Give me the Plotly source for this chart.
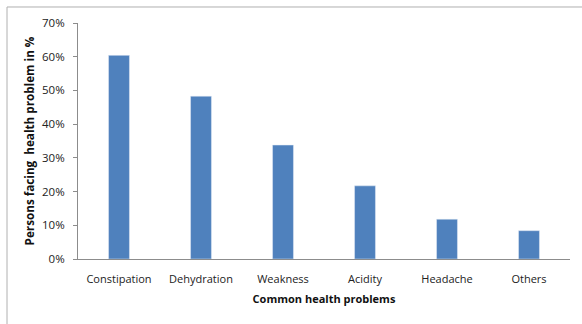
import plotly.graph_objects as go

categories = ["Constipation", "Dehydration", "Weakness", "Acidity", "Headache", "Others"]
values = [0.604, 0.483, 0.338, 0.217, 0.118, 0.084]
y_ticks = [0, 0.1, 0.2, 0.3, 0.4, 0.5, 0.6, 0.7]

fig = go.Figure(go.Bar(x=categories, y=values, marker_color="#4F81BD", width=0.255))

font = "Open Sans, Liberation Sans, sans-serif"
fig.update_layout(
    width=582, height=324,
    margin=dict(l=78, r=12, t=23, b=65),
    plot_bgcolor="white", paper_bgcolor="white",
    showlegend=False,
    font=dict(family=font, size=11, color="#222"),
    xaxis=dict(
        showline=True, linecolor="#8c8c8c", linewidth=1,
        ticks="", showgrid=False,
        tickfont=dict(size=11, color="#222"),
        ticklabelstandoff=10,
        title=dict(text="<b>Common health problems</b>", font=dict(size=11, color="#111"), standoff=10),
    ),
    yaxis=dict(
        range=[0, 0.7], tickvals=y_ticks, tickformat=".0%",
        showline=True, linecolor="#8c8c8c", linewidth=1,
        ticks="outside", ticklen=4, tickcolor="#8c8c8c",
        ticklabelstandoff=6,
        showgrid=False, zeroline=False,
        tickfont=dict(size=11.5, color="#222"),
        title=dict(text="<b>Persons facing  health problem in %</b>", font=dict(size=11.7, color="#111"), standoff=4),
    ),
    shapes=[dict(type="rect", xref="paper", yref="paper",
                 x0=-0.1443, x1=1.2, y0=-0.6, y1=1.0678,
                 line=dict(color="#b0b0b0", width=1), layer="below")],
)

fig.write_html("out.html")
